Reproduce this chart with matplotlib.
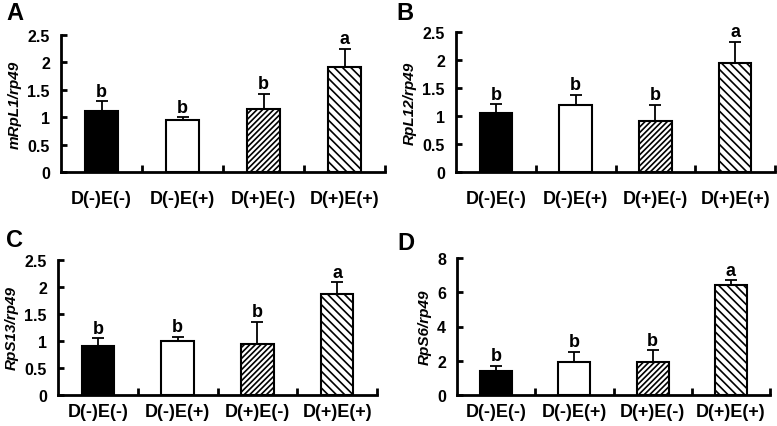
import numpy as np
import matplotlib.pyplot as plt

plt.rcParams['font.family'] = ['Liberation Sans', 'DejaVu Sans']
plt.rcParams['font.weight'] = 'bold'
plt.rcParams['hatch.linewidth'] = 1.2

groups = ['D(-)E(-)', 'D(-)E(+)', 'D(+)E(-)', 'D(+)E(+)']

mrpl1 = [1.11, 0.95, 1.15, 1.92]
mrpl1_err = [0.18, 0.045, 0.28, 0.33]
rpl12 = [1.06, 1.20, 0.915, 1.94]
rpl12_err = [0.15, 0.18, 0.285, 0.38]
rps13 = [0.91, 1.00, 0.95, 1.87]
rps13_err = [0.14, 0.08, 0.41, 0.22]
rps6 = [1.39, 1.95, 1.95, 6.42]
rps6_err = [0.33, 0.59, 0.66, 0.27]

letters = ['b', 'b', 'b', 'a']

panels = [
    ('A', 'mRpL1/rp49', mrpl1, mrpl1_err, 2.5, 0.5),
    ('B', 'RpL12/rp49', rpl12, rpl12_err, 2.5, 0.5),
    ('C', 'RpS13/rp49', rps13, rps13_err, 2.5, 0.5),
    ('D', 'RpS6/rp49', rps6, rps6_err, 8, 2),
]

# axes boxes in pixels: left, right, top, bottom
boxes = [(61, 385, 36, 173), (456, 775, 33, 173),
         (58, 377, 261, 396), (457, 770, 259, 396)]
tag_pos = [(6, 14), (396, 14), (6, 241), (397, 244)]
label_pad = [13, 13, 6, 6]

W, H = 777, 427
fig = plt.figure(figsize=(W / 100, H / 100), dpi=100)

faces = ['black', 'white', 'white', 'white']
hatches = [None, None, '//////', '\\\\\\\\']
x = np.arange(len(groups))

for (tag, ylab, vals, errs, ymax, step), (l, r, t, b), (tx, ty), pad in zip(panels, boxes, tag_pos, label_pad):
    ax = fig.add_axes([l / W, 1 - b / H, (r - l) / W, (b - t) / H])
    ax.bar(x, vals, width=0.41, color=faces, edgecolor='black', linewidth=1.5,
           hatch=hatches, zorder=2)
    ax.errorbar(x, vals, yerr=[np.zeros(4), errs], fmt='none', ecolor='black',
                elinewidth=1.3, capsize=4, capthick=1.3, zorder=1)
    for xi, v, e, s in zip(x, vals, errs, letters):
        ax.text(xi, v + e + ymax * 0.012, s, ha='center', va='bottom',
                fontsize=13, fontweight='bold')
    ax.set_xlim(-0.5, 3.5)
    ax.set_ylim(0, ymax)
    yt = np.arange(0, ymax + step / 2, step)
    ax.set_yticks(yt)
    ax.set_yticklabels(['%g' % v for v in yt], fontsize=11.5, fontweight='bold')
    ax.set_xticks(x)
    ax.set_xticklabels(groups, fontsize=13, fontweight='bold')
    ax.set_xticks([0.5, 1.5, 2.5, 3.5], minor=True)
    ax.tick_params(axis='x', which='major', length=0, pad=pad)
    ax.tick_params(axis='x', which='minor', direction='in', length=5, width=2)
    ax.tick_params(axis='y', direction='in', length=4, width=2, pad=8)
    for side in ['top', 'right']:
        ax.spines[side].set_visible(False)
    for side in ['left', 'bottom']:
        ax.spines[side].set_linewidth(2)
    ax.set_ylabel(ylab, fontsize=11, fontweight='bold', style='italic', labelpad=4)
    fig.text(tx / W, 1 - ty / H, tag, fontsize=17, fontweight='bold', va='center')

fig.savefig('out.png', dpi=100)
